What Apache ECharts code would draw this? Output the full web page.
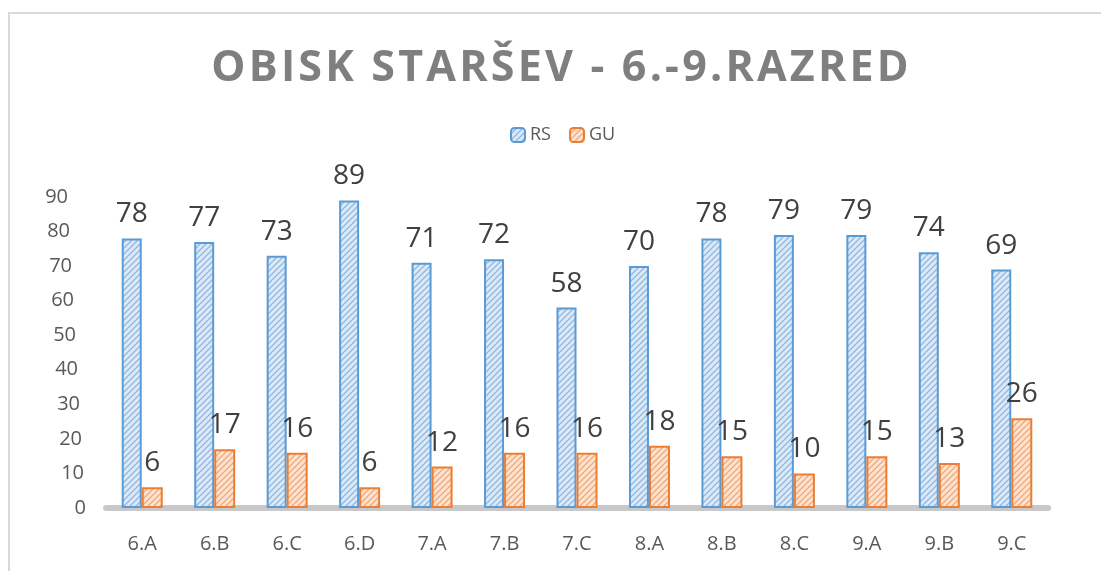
<!DOCTYPE html>
<html>
<head>
<meta charset="utf-8">
<script src="https://cdn.jsdelivr.net/npm/echarts@6/dist/echarts.min.js"></script>
<style>
  html, body { margin: 0; padding: 0; background: #fff; }
  #chart { width: 1101px; height: 571px; }
</style>
</head>
<body>
<div id="chart"></div>
<script>
  // podatki
  const razredi = ['6.A', '6.B', '6.C', '6.D', '7.A', '7.B', '7.C', '8.A', '8.B', '8.C', '9.A', '9.B', '9.C'];
  const rs = [78, 77, 73, 89, 71, 72, 58, 70, 78, 79, 79, 74, 69];
  const gu = [6, 17, 16, 6, 12, 16, 16, 18, 15, 10, 15, 13, 26];
  const yTicks = [0, 10, 20, 30, 40, 50, 60, 70, 80, 90];
  const naslov = 'OBISK STARŠEV - 6.-9.RAZRED';

  // šrafura za stolpce
  function hatch(bg, line) {
    const c = document.createElement('canvas');
    c.width = 6; c.height = 6;
    const ctx = c.getContext('2d');
    ctx.fillStyle = bg;
    ctx.fillRect(0, 0, 6, 6);
    ctx.strokeStyle = line;
    ctx.lineWidth = 1.3;
    ctx.beginPath();
    ctx.moveTo(0, 6); ctx.lineTo(6, 0);
    ctx.moveTo(-3, 3); ctx.lineTo(3, -3);
    ctx.moveTo(3, 9); ctx.lineTo(9, 3);
    ctx.stroke();
    return { image: c, repeat: 'repeat' };
  }

  const labelStyle = { show: true, position: 'top', distance: 10, fontSize: 28, color: '#404040', fontFamily: 'Open Sans' };

  // oznake osi y so v 3D rahlo zamaknjene
  const rich = {};
  yTicks.forEach((t, i) => { rich['p' + i] = { padding: [0, i * 2, 0, 0], fontSize: 20, color: '#595959', fontFamily: 'Open Sans' }; });

  // razmik med črkami naslova
  const naslovRich = naslov.split('').map(ch => '{c|' + ch + '}').join('');

  const chart = echarts.init(document.getElementById('chart'));
  chart.setOption({
    animation: false,
    backgroundColor: '#fff',
    title: {
      text: naslovRich,
      left: 555, top: 42, textAlign: 'center',
      textStyle: {
        rich: { c: { fontFamily: 'Open Sans', fontWeight: 'bold', fontSize: 43, color: '#7f7f7f', padding: [0, 1.6, 0, 1.6] } }
      }
    },
    legend: {
      top: 121, left: 505,
      itemWidth: 14, itemHeight: 14, itemGap: 18,
      textStyle: { fontFamily: 'Open Sans', fontSize: 18, color: '#595959' },
      data: ['RS', 'GU']
    },
    grid: { left: 106, right: 53, top: 197, bottom: 63 },
    xAxis: {
      type: 'category',
      data: razredi,
      axisLine: { lineStyle: { color: '#c8c8c8', width: 6 } },
      axisTick: { show: false },
      axisLabel: { fontFamily: 'Open Sans', fontSize: 20, color: '#595959', margin: 26 }
    },
    yAxis: {
      type: 'value',
      min: 0, max: 90, interval: 10,
      splitLine: { show: false },
      axisLine: { show: false },
      axisTick: { show: false },
      axisLabel: {
        margin: 20,
        formatter: v => '{p' + yTicks.indexOf(v) + '|' + v + '}',
        rich: rich
      }
    },
    series: [
      {
        name: 'RS', type: 'bar', data: rs,
        barWidth: 20, barGap: '0%',
        itemStyle: { color: hatch('#dde9f6', '#8fb8e2'), borderColor: '#5b9bd5', borderWidth: 2 },
        label: Object.assign({}, labelStyle)
      },
      {
        name: 'GU', type: 'bar', data: gu,
        barWidth: 21,
        itemStyle: { color: hatch('#fde4d2', '#f4a877'), borderColor: '#ed7d31', borderWidth: 2 },
        label: Object.assign({}, labelStyle)
      }
    ],
    graphic: [
      { type: 'rect', shape: { x: 9, y: 13, width: 1200, height: 700 }, style: { fill: 'none', stroke: '#d9d9d9', lineWidth: 2 }, silent: true }
    ]
  });
</script>
</body>
</html>
